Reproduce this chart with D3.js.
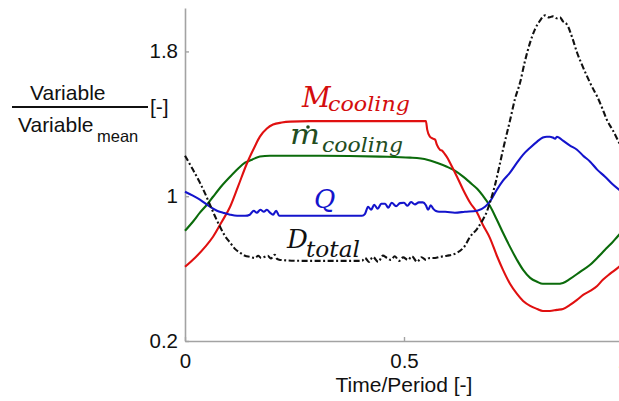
<!DOCTYPE html>
<html>
<head>
<meta charset="utf-8">
<script src="https://cdn.jsdelivr.net/npm/d3@7"></script>
<style>
  html, body { margin: 0; padding: 0; background: #fff; }
  svg { display: block; }
</style>
</head>
<body>
<svg id="chart" width="619" height="401"></svg>
<script>
// Normalised variables over one period: [time/period, variable/mean]
const massCooling = [
  [0, 0.61], [0.023, 0.66], [0.046, 0.72], [0.064, 0.776], [0.084, 0.859], [0.103, 0.942],
  [0.121, 1.053], [0.142, 1.185], [0.158, 1.268], [0.171, 1.329], [0.187, 1.374], [0.201, 1.396],
  [0.221, 1.407], [0.240, 1.412], [0.285, 1.415], [0.377, 1.415], [0.491, 1.415], [0.550, 1.415],
  [0.553, 1.368], [0.559, 1.329], [0.566, 1.318], [0.571, 1.313], [0.575, 1.285], [0.582, 1.257],
  [0.587, 1.252], [0.594, 1.230], [0.600, 1.208], [0.605, 1.185], [0.621, 1.108], [0.635, 1.036],
  [0.651, 0.964], [0.667, 0.909], [0.680, 0.842], [0.696, 0.770], [0.712, 0.671], [0.726, 0.593],
  [0.742, 0.516], [0.758, 0.460], [0.772, 0.421], [0.788, 0.394], [0.804, 0.377], [0.817, 0.366],
  [0.833, 0.366], [0.849, 0.372], [0.863, 0.377], [0.879, 0.399], [0.895, 0.427], [0.909, 0.455],
  [0.925, 0.477], [0.941, 0.504], [0.954, 0.538], [0.970, 0.571], [0.991, 0.610], [1.0, 0.632]
];

const massFlowCooling = [
  [0, 0.809], [0.018, 0.859], [0.034, 0.909], [0.050, 0.953], [0.064, 0.997], [0.084, 1.058],
  [0.103, 1.108], [0.121, 1.152], [0.137, 1.185], [0.153, 1.202], [0.171, 1.219], [0.194, 1.224],
  [0.217, 1.224], [0.308, 1.224], [0.445, 1.219], [0.514, 1.213], [0.553, 1.202], [0.575, 1.185],
  [0.598, 1.163], [0.616, 1.141], [0.635, 1.108], [0.651, 1.075], [0.667, 1.041], [0.680, 1.003],
  [0.696, 0.947], [0.712, 0.870], [0.726, 0.798], [0.742, 0.720], [0.758, 0.648], [0.772, 0.593],
  [0.788, 0.549], [0.804, 0.527], [0.817, 0.516], [0.833, 0.516], [0.849, 0.516], [0.863, 0.521],
  [0.879, 0.543], [0.902, 0.582], [0.925, 0.621], [0.941, 0.659], [0.959, 0.704], [0.975, 0.743],
  [0.991, 0.787], [1.0, 0.809]
];

const heatQ = [
  [0, 1.025], [0.018, 1.003], [0.034, 0.981], [0.057, 0.942], [0.073, 0.920], [0.087, 0.909],
  [0.103, 0.898], [0.119, 0.892], [0.137, 0.892], [0.148, 0.898], [0.157, 0.920], [0.164, 0.909],
  [0.172, 0.925], [0.180, 0.914], [0.187, 0.925], [0.194, 0.909], [0.201, 0.898], [0.208, 0.920],
  [0.215, 0.892], [0.221, 0.892], [0.331, 0.892], [0.404, 0.892], [0.411, 0.903], [0.418, 0.942],
  [0.425, 0.925], [0.432, 0.953], [0.440, 0.931], [0.448, 0.958], [0.457, 0.958], [0.464, 0.936],
  [0.472, 0.964], [0.482, 0.945], [0.491, 0.962], [0.500, 0.964], [0.508, 0.947], [0.516, 0.968],
  [0.525, 0.955], [0.534, 0.966], [0.543, 0.966], [0.550, 0.950], [0.555, 0.925], [0.561, 0.950],
  [0.567, 0.930], [0.573, 0.918], [0.580, 0.914], [0.594, 0.914], [0.616, 0.909], [0.639, 0.914],
  [0.667, 0.920], [0.685, 0.942], [0.696, 0.970], [0.712, 1.036], [0.726, 1.086], [0.742, 1.130],
  [0.758, 1.185], [0.772, 1.230], [0.788, 1.268], [0.804, 1.302], [0.817, 1.324], [0.826, 1.329],
  [0.833, 1.329], [0.840, 1.324], [0.845, 1.318], [0.849, 1.329], [0.854, 1.324], [0.863, 1.307],
  [0.879, 1.280], [0.895, 1.257], [0.909, 1.224], [0.925, 1.191], [0.941, 1.147], [0.959, 1.108],
  [0.975, 1.069], [0.991, 1.036], [1.0, 1.019]
];

const dTotal = [
  [0, 1.224], [0.018, 1.147], [0.034, 1.075], [0.046, 1.014], [0.057, 0.953], [0.068, 0.892],
  [0.080, 0.831], [0.091, 0.781], [0.103, 0.743], [0.114, 0.709], [0.126, 0.687], [0.137, 0.671],
  [0.148, 0.665], [0.160, 0.659], [0.167, 0.671], [0.174, 0.659], [0.182, 0.665], [0.189, 0.671],
  [0.196, 0.656], [0.205, 0.676], [0.210, 0.654], [0.217, 0.648], [0.263, 0.643], [0.404, 0.643],
  [0.411, 0.659], [0.420, 0.637], [0.429, 0.665], [0.441, 0.637], [0.452, 0.672], [0.461, 0.659],
  [0.470, 0.648], [0.479, 0.668], [0.489, 0.643], [0.498, 0.662], [0.509, 0.648], [0.518, 0.668],
  [0.530, 0.637], [0.540, 0.663], [0.550, 0.648], [0.559, 0.659], [0.571, 0.659], [0.582, 0.665],
  [0.598, 0.671], [0.621, 0.687], [0.639, 0.726], [0.651, 0.776], [0.667, 0.820], [0.680, 0.870],
  [0.689, 0.914], [0.696, 0.964], [0.708, 1.064], [0.717, 1.158], [0.726, 1.257], [0.742, 1.418],
  [0.753, 1.534], [0.765, 1.628], [0.776, 1.745], [0.788, 1.850], [0.799, 1.922], [0.811, 1.972],
  [0.822, 1.999], [0.831, 1.988], [0.840, 1.994], [0.849, 1.983], [0.856, 1.988], [0.863, 1.966],
  [0.872, 1.949], [0.884, 1.877], [0.895, 1.794], [0.906, 1.728], [0.918, 1.662], [0.929, 1.606],
  [0.941, 1.551], [0.952, 1.490], [0.963, 1.423], [0.977, 1.363], [0.991, 1.296], [1.0, 1.252]
];

const xTicks = [0, 0.5, 1];
const yTicks = [0.2, 1, 1.8];
const xTitle = "Time/Period [-]";

const svg = d3.select("#chart");
const sans = "'Liberation Sans', Arial, sans-serif";
const serif = "'DejaVu Serif', serif";
const axisColor = "#a3a3a3";

const x = d3.scaleLinear().domain([0, 1]).range([185, 623]);
const y = d3.scaleLinear().domain([0.2, 2.04]).range([341, 8]);

// Axes with short inward ticks
const gx = svg.append("g").attr("transform", `translate(0,${y(0.2)})`)
  .call(d3.axisBottom(x).tickValues(xTicks).tickFormat(d3.format("")).tickSizeInner(-4).tickSizeOuter(0).tickPadding(12));
const gy = svg.append("g").attr("transform", `translate(${x(0)},0)`)
  .call(d3.axisLeft(y).tickValues(yTicks).tickFormat(d3.format("")).tickSizeInner(-4).tickSizeOuter(0).tickPadding(7));

[gx, gy].forEach(g => {
  g.select(".domain").attr("stroke", axisColor).attr("stroke-width", 1.6);
  g.selectAll(".tick line").attr("stroke", axisColor).attr("stroke-width", 1.4);
  g.selectAll(".tick text").attr("fill", "#111").style("font-family", sans).style("font-size", "20.5px");
});

// Series lines
const line = d3.line().x(d => x(d[0])).y(d => y(d[1])).curve(d3.curveMonotoneX);
const series = [
  { data: massFlowCooling, color: "#0b6b0b", dash: null },
  { data: massCooling, color: "#e01010", dash: null },
  { data: heatQ, color: "#1414cc", dash: null },
  { data: dTotal, color: "#111", dash: "6,2.5,2,2.5" }
];
svg.append("g").selectAll("path").data(series).join("path")
  .attr("d", d => line(d.data))
  .attr("fill", "none")
  .attr("stroke", d => d.color)
  .attr("stroke-width", 2.1)
  .attr("stroke-dasharray", d => d.dash);

// Inline series labels (italic math style)
function mathLabel(px, py, main, mainSize, color, sub, subX, subY, subSize, subLen, mainLen) {
  const t = svg.append("g").attr("fill", color).style("font-family", serif).style("font-style", "italic");
  const m = t.append("text").attr("x", px).attr("y", py).style("font-size", mainSize + "px").text(main);
  if (mainLen) m.attr("textLength", mainLen).attr("lengthAdjust", "spacingAndGlyphs");
  if (sub) {
    t.append("text").attr("x", subX).attr("y", subY).style("font-size", subSize + "px")
      .attr("textLength", subLen).attr("lengthAdjust", "spacingAndGlyphs").text(sub);
  }
  return t;
}
mathLabel(302, 107, "M", 28, "#d40d0d", "cooling", 328, 111, 21, 82);
const mdot = mathLabel(290, 144, "m", 27, "#234d1f", "cooling", 322, 152, 21, 81, 30);
mdot.append("circle").attr("cx", 308).attr("cy", 127).attr("r", 1.8);
mathLabel(314, 208, "Q", 26, "#1414cc");
mathLabel(287, 248, "D", 26, "#111", "total", 306, 257, 22, 54);

// Axis titles
svg.append("text").attr("x", x(0.5)).attr("y", 392).attr("text-anchor", "middle")
  .style("font-family", sans).style("font-size", "21px").attr("fill", "#111").text(xTitle);

const yl = svg.append("g").style("font-family", sans).attr("fill", "#111");
yl.append("text").attr("x", 30).attr("y", 100).style("font-size", "21px").text("Variable");
yl.append("line").attr("x1", 12).attr("x2", 148).attr("y1", 107).attr("y2", 107)
  .attr("stroke", "#111").attr("stroke-width", 2);
yl.append("text").attr("x", 150).attr("y", 114).style("font-size", "21px").text("[-]");
yl.append("text").attr("x", 18).attr("y", 132).style("font-size", "21px").text("Variable");
yl.append("text").attr("x", 97).attr("y", 142).style("font-size", "16.5px").text("mean");
</script>
</body>
</html>
